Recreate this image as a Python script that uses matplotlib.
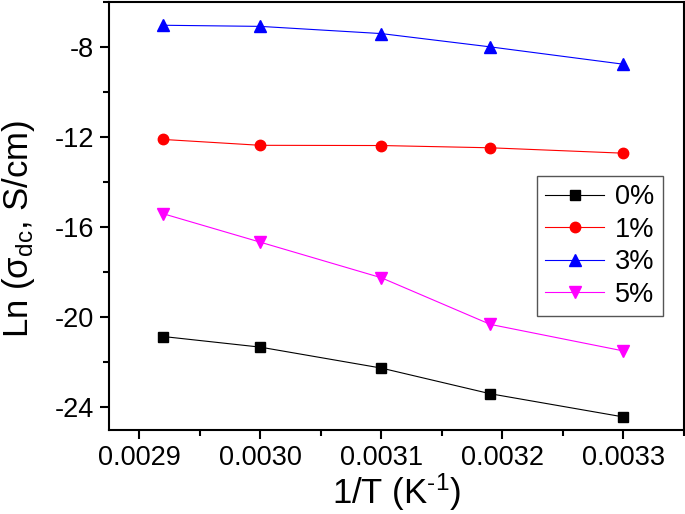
import matplotlib
matplotlib.use("Agg")
import matplotlib.pyplot as plt
from matplotlib.ticker import MultipleLocator, FixedLocator

plt.rcParams['font.family'] = ['Liberation Sans', 'DejaVu Sans']
plt.rcParams['mathtext.fontset'] = 'custom'
plt.rcParams['mathtext.rm'] = 'Liberation Sans'
plt.rcParams['mathtext.it'] = 'Liberation Sans:italic'
plt.rcParams['axes.unicode_minus'] = False

inv_T = [0.00292, 0.00300, 0.00310, 0.00319, 0.00330]
s0 = [-20.85, -21.32, -22.25, -23.39, -24.42]
s1 = [-12.10, -12.36, -12.37, -12.47, -12.71]
s3 = [-7.03, -7.08, -7.40, -7.99, -8.76]
s5 = [-15.40, -16.66, -18.24, -20.31, -21.49]
labels = ['0%', '1%', '3%', '5%']
xticks = [0.0029, 0.0030, 0.0031, 0.0032, 0.0033]
xticklabels = ['0.0029', '0.0030', '0.0031', '0.0032', '0.0033']
yticks = [-24, -20, -16, -12, -8]

fig = plt.figure(figsize=(6.85, 5.14), dpi=100)
ax = fig.add_axes([0.159, 0.1634, 0.8395, 0.8326])

lw = 0.8
ax.plot(inv_T, s0, color='black', marker='s', ms=6.5, lw=lw, label=labels[0])
ax.plot(inv_T, s1, color='red', marker='o', ms=7.5, lw=lw, label=labels[1])
ax.plot(inv_T, s3, color='blue', marker='^', ms=8.5, lw=lw, label=labels[2])
ax.plot(inv_T, s5, color='magenta', marker='v', ms=8.5, lw=lw, label=labels[3])

ax.set_xlim(0.002875, 0.00335)
ax.set_ylim(-25, -6)
ax.xaxis.set_major_locator(FixedLocator(xticks))
ax.set_xticklabels(xticklabels)
ax.xaxis.set_minor_locator(MultipleLocator(0.00005))
ax.yaxis.set_major_locator(FixedLocator(yticks))
ax.set_yticklabels([str(v) for v in yticks])
ax.yaxis.set_minor_locator(MultipleLocator(2))

for sp in ax.spines.values():
    sp.set_linewidth(1.5)
ax.tick_params(which='major', direction='out', length=6.5, width=1.5, labelsize=19.5, pad=4)
ax.tick_params(which='minor', direction='out', length=4, width=1.5)

ax.set_xlabel(r'1/T (K$^{\text{-1}}$)', fontsize=25, labelpad=1)
ax.set_ylabel(r'Ln (σ$_{\mathrm{dc}}$, S/cm)', fontsize=25)
ax.yaxis.set_label_coords(-0.125, 0.47)

leg = ax.legend(loc='upper left', bbox_to_anchor=(0.744, 0.593), borderaxespad=0,
                fontsize=19.5, numpoints=1, handlelength=2.2, labelspacing=0.24,
                fancybox=False, framealpha=1, edgecolor='#555555',
                handletextpad=0.4, borderpad=0.3)
leg.get_frame().set_linewidth(1.0)

fig.savefig('out.png', dpi=100)
